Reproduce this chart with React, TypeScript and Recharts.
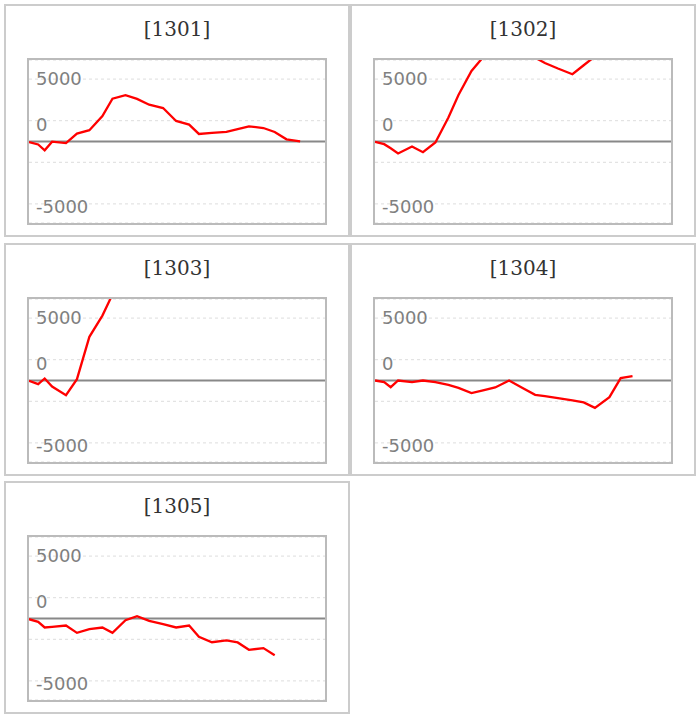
import { LineChart, Line, XAxis, YAxis, CartesianGrid, ReferenceLine } from "recharts";

// stock codes, one small chart each
const codes = ["1301", "1302", "1303", "1304", "1305"];

// shared time positions (axis runs 0..100)
const times = [
  0, 3.1, 5.3, 7.8, 12.5, 16.2, 20.4, 24.8, 28.2, 32.6, 36.5, 40.6, 45.3, 49.7,
  54.1, 57.4, 61.8, 66.7, 70.5, 74.3, 79.2, 83.0, 87.0, 91.6,
];

const s1301 = [
  -40, -240, -705, -15, -125, 635, 905, 2045, 3435, 3705, 3415, 2950, 2680, 1645,
  1350, 605, 685, 765, 1000, 1215, 1080, 760, 175, 15,
];
const s1302 = [
  -20, -215, -540, -960, -400, -860, -80, 1920, 3730, 5650, 6750, 7500, 8200, 7700,
  6720, 6290, 5850, 5390, 6110, 6820, 7600, 8100,
];
const s1303 = [-25, -290, 160, -480, -1170, 110, 3500, 5200, 6900, 8300, 9100, 8800];
const s1304 = [
  0, -135, -535, 0, -135, 0, -135, -350, -590, -1015, -800, -560, 0, -590, -1150,
  -1250, -1415, -1600, -1760, -2190, -1335, 190, 350,
];
const s1305 = [
  -55, -265, -720, -670, -560, -1150, -855, -720, -1150, -135, 185, -185, -455,
  -720, -560, -1470, -1900, -1760, -1920, -2510, -2375, -2940,
];

const series = [s1301, s1302, s1303, s1304, s1305];

const gridTicks = [-5000, -10000 / 3, -5000 / 3, 0, 5000 / 3, 10000 / 3, 5000];
const labelTicks = [5000, 5000 / 3, -5000];
const labelTexts = ["5000", "0", "-5000"];
const yLimit = 6530;

// small vertical nudges of the labels, in px
const labelNudge = [0, 4, 3];

function AxisLabel(props: any) {
  const { x, y, payload } = props;
  const i = labelTicks.findIndex((v) => Math.abs(v - payload.value) < 1);
  if (i < 0) return <g />;
  return (
    <text
      x={x - 1}
      y={y + labelNudge[i]}
      dy="0.355em"
      textAnchor="start"
      fill="#808080"
      fontSize={18}
      fontFamily="'DejaVu Sans', sans-serif"
    >
      {labelTexts[i]}
    </text>
  );
}

function Panel({ code, values, left, top }: { code: string; values: number[]; left: number; top: number }) {
  const data = values.map((v, i) => ({ t: times[i], v }));
  return (
    <div
      style={{
        position: "absolute",
        left,
        top,
        width: 346,
        height: 233,
        boxSizing: "border-box",
        border: "2px solid #ccc",
        background: "#fff",
      }}
    >
      <div
        style={{
          position: "absolute",
          left: 0,
          right: 0,
          top: 13,
          height: 20,
          lineHeight: "20px",
          textAlign: "center",
          fontFamily: "'DejaVu Serif', serif",
          fontSize: 20,
          color: "#333",
        }}
      >
        [{code}]
      </div>
      <div
        style={{
          position: "absolute",
          left: 21,
          top: 52,
          width: 300,
          height: 167,
          boxSizing: "border-box",
          border: "2px solid #bbb",
        }}
      >
        <LineChart
          width={296}
          height={163}
          data={data}
          margin={{ top: 0, right: 0, bottom: 0, left: 0 }}
          style={{ overflow: "visible" }}
        >
          <CartesianGrid vertical={false} stroke="#ddd" strokeDasharray="3 3" />
          <XAxis dataKey="t" type="number" domain={[0, 100]} hide />
          <YAxis
            type="number"
            domain={[-yLimit, yLimit]}
            ticks={gridTicks}
            allowDataOverflow
            mirror
            axisLine={false}
            tickLine={false}
            tick={AxisLabel}
          />
          <ReferenceLine
            segment={[
              { x: -1, y: 0 },
              { x: 101, y: 0 },
            ]}
            ifOverflow="visible"
            stroke="#888"
            strokeWidth={2}
          />
          <Line
            type="linear"
            dataKey="v"
            stroke="#ff0000"
            strokeWidth={2.3}
            dot={false}
            activeDot={false}
            isAnimationActive={false}
          />
        </LineChart>
      </div>
    </div>
  );
}

export default function App() {
  return (
    <div style={{ position: "absolute", left: 4, top: 4, width: 692, height: 710 }}>
      {codes.map((code, i) => (
        <Panel
          key={code}
          code={code}
          values={series[i]}
          left={(i % 2) * 346}
          top={Math.floor(i / 2) * 239 - (i >= 4 ? 1 : 0)}
        />
      ))}
    </div>
  );
}
